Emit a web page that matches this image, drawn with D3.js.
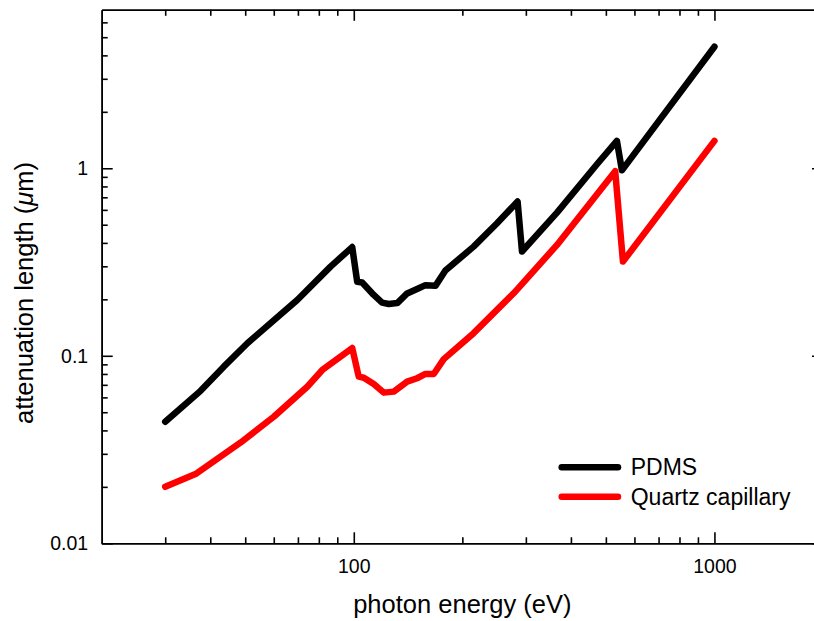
<!DOCTYPE html>
<html>
<head>
<meta charset="utf-8">
<script src="https://cdn.jsdelivr.net/npm/d3@7"></script>
<style>
  html, body { margin: 0; padding: 0; background: #fff; }
  svg { display: block; font-family: "Liberation Sans", Arial, sans-serif; }
</style>
</head>
<body>
<svg id="chart" width="814" height="621"></svg>
<script>
// Photon energy (eV) and attenuation length (µm) for each material
const pdmsEnergy = [30, 37.6, 43.6, 50.7, 69.7, 86.2, 99, 102.2, 105.5, 113.6, 119.8, 125, 132, 140.6, 151.4, 158, 168.4, 179.5, 214.9, 249.6, 284.6, 292.7, 366, 472.4, 536.5, 554, 1000];
const pdmsLength = [0.0445, 0.065, 0.0875, 0.1166, 0.1984, 0.299, 0.38, 0.248, 0.246, 0.211, 0.192, 0.189, 0.191, 0.215, 0.229, 0.238, 0.236, 0.285, 0.382, 0.509, 0.665, 0.36, 0.58, 1.05, 1.40, 0.975, 4.45];

const quartzEnergy = [30, 36.4, 48.6, 60, 74.3, 81.8, 99, 103.2, 106.6, 113.6, 121.1, 129.1, 140.6, 149.8, 158, 166.6, 177.6, 214.9, 277.5, 366, 530.7, 557.6, 1000];
const quartzLength = [0.0200, 0.0234, 0.0345, 0.0473, 0.0684, 0.084, 0.110, 0.0774, 0.0764, 0.0707, 0.0636, 0.0644, 0.0728, 0.0759, 0.080, 0.080, 0.096, 0.132, 0.2154, 0.390, 0.965, 0.318, 1.40];

const seriesNames = ["PDMS", "Quartz capillary"];
const seriesColors = ["#000000", "#ff0000"];

// Axis ranges and tick values
const xDomain = [20, 2000];
const yDomain = [0.01, 7];
const xMajorTicks = [100, 1000];
const xMinorTicks = [30, 40, 50, 60, 70, 80, 90, 200, 300, 400, 500, 600, 700, 800, 900];
const yMajorTicks = [0.01, 0.1, 1];
const yMinorTicks = [0.02, 0.03, 0.04, 0.05, 0.06, 0.07, 0.08, 0.09,
                     0.2, 0.3, 0.4, 0.5, 0.6, 0.7, 0.8, 0.9,
                     2, 3, 4, 5, 6];
const yTickLabels = ["0.01", "0.1", "1"];
const xTickLabels = ["100", "1000"];

const svg = d3.select("#chart");

const plot = { left: 101.7, right: 823, top: 9.8, bottom: 543.3 };

const x = d3.scaleLog().domain(xDomain).range([plot.left, plot.right]);
const y = d3.scaleLog().domain(yDomain).range([plot.bottom, plot.top]);

const axisStroke = 1.6;
const tickFont = "19.5px";

function styleAxis(g) {
  g.selectAll("path.domain").attr("stroke", "#000").attr("stroke-width", axisStroke);
  g.selectAll(".tick line").attr("stroke", "#000").attr("stroke-width", axisStroke);
  g.selectAll(".tick text").attr("fill", "#000").style("font-size", tickFont)
    .style("font-family", "'Liberation Sans', Arial, sans-serif");
}

// Bottom axis (ticks pointing inward)
const gBottom = svg.append("g").attr("transform", `translate(0,${plot.bottom})`);
gBottom.call(d3.axisBottom(x).tickValues(xMinorTicks).tickSize(-6).tickSizeOuter(0).tickFormat(""));
gBottom.call(styleAxis);
const gBottomMajor = svg.append("g").attr("transform", `translate(0,${plot.bottom})`);
gBottomMajor.call(d3.axisBottom(x).tickValues(xMajorTicks).tickSize(-11).tickSizeOuter(0)
  .tickPadding(16).tickFormat((d, i) => xTickLabels[i]));
gBottomMajor.call(styleAxis);

// Top axis
const gTop = svg.append("g").attr("transform", `translate(0,${plot.top})`);
gTop.call(d3.axisTop(x).tickValues(xMinorTicks).tickSize(-6).tickSizeOuter(0).tickFormat(""));
gTop.call(styleAxis);
const gTopMajor = svg.append("g").attr("transform", `translate(0,${plot.top})`);
gTopMajor.call(d3.axisTop(x).tickValues(xMajorTicks).tickSize(-11).tickSizeOuter(0).tickFormat(""));
gTopMajor.call(styleAxis);

// Left axis
const gLeft = svg.append("g").attr("transform", `translate(${plot.left},0)`);
gLeft.call(d3.axisLeft(y).tickValues(yMinorTicks).tickSize(-6).tickSizeOuter(0).tickFormat(""));
gLeft.call(styleAxis);
const gLeftMajor = svg.append("g").attr("transform", `translate(${plot.left},0)`);
gLeftMajor.call(d3.axisLeft(y).tickValues(yMajorTicks).tickSize(-11).tickSizeOuter(0)
  .tickPadding(13.5).tickFormat((d, i) => yTickLabels[i]));
gLeftMajor.call(styleAxis);

// Right axis
const gRight = svg.append("g").attr("transform", `translate(${plot.right},0)`);
gRight.call(d3.axisRight(y).tickValues(yMinorTicks).tickSize(-6).tickSizeOuter(0).tickFormat(""));
gRight.call(styleAxis);
const gRightMajor = svg.append("g").attr("transform", `translate(${plot.right},0)`);
gRightMajor.call(d3.axisRight(y).tickValues(yMajorTicks).tickSize(-11).tickSizeOuter(0).tickFormat(""));
gRightMajor.call(styleAxis);

// Curves
const line = d3.line().x(d => x(d[0])).y(d => y(d[1]));
const series = [
  d3.zip(pdmsEnergy, pdmsLength),
  d3.zip(quartzEnergy, quartzLength)
];

svg.append("g").selectAll("path.curve")
  .data(series)
  .join("path")
  .attr("class", "curve")
  .attr("d", line)
  .attr("fill", "none")
  .attr("stroke", (d, i) => seriesColors[i])
  .attr("stroke-width", 6.5)
  .attr("stroke-linejoin", "round")
  .attr("stroke-linecap", "round");

// Axis titles
svg.append("text")
  .attr("x", (plot.left + plot.right) / 2)
  .attr("y", 613)
  .attr("text-anchor", "middle")
  .style("font-size", "25.5px")
  .text("photon energy (eV)");

const yTitle = svg.append("text")
  .attr("transform", "translate(33.3,293) rotate(-90)")
  .attr("text-anchor", "middle")
  .style("font-size", "25.5px");
yTitle.append("tspan").text("attenuation length (");
yTitle.append("tspan").style("font-style", "italic").text("\u03bc");
yTitle.append("tspan").text("m)");

// Legend
const legend = svg.append("g").attr("transform", "translate(561.7,467.3)");
const rowGap = 29.4;
seriesNames.forEach((name, i) => {
  const row = legend.append("g").attr("transform", `translate(0,${i * rowGap})`);
  row.append("line")
    .attr("x1", 0).attr("x2", 56.3).attr("y1", 0).attr("y2", 0)
    .attr("stroke", seriesColors[i])
    .attr("stroke-width", 6.5)
    .attr("stroke-linecap", "round");
  row.append("text")
    .attr("x", 69)
    .attr("y", 0)
    .attr("dy", "0.35em")
    .style("font-size", "23px")
    .text(name);
});
</script>
</body>
</html>
